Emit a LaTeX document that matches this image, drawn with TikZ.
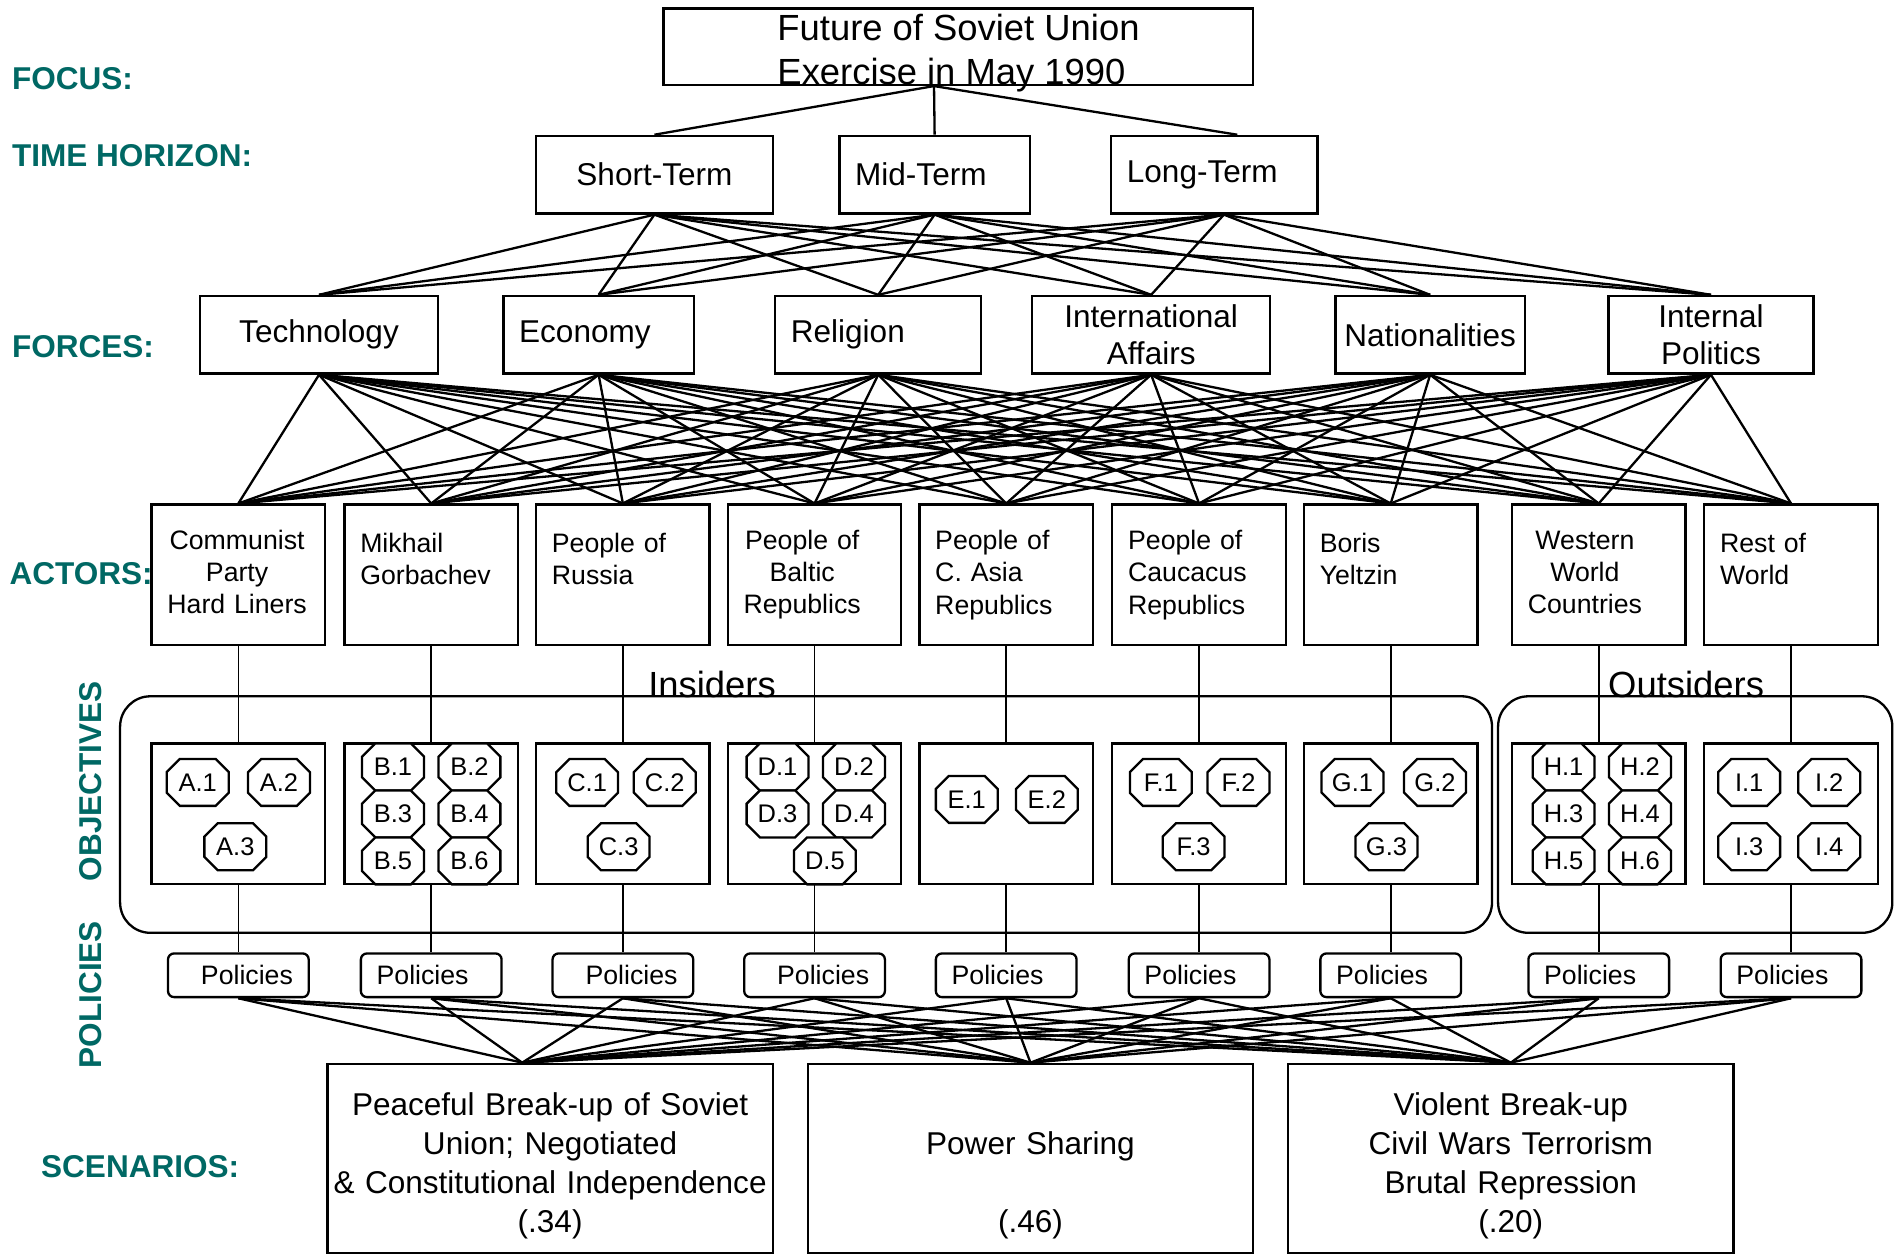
\documentclass[tikz,border=0pt]{standalone}
\usepackage{fontspec}
\setmainfont{Liberation Sans}
\usepackage{tikz}
\usetikzlibrary{shapes.misc}
\definecolor{levelcol}{RGB}{0,104,100}

\begin{document}
\begin{tikzpicture}[x=1pt,y=-1pt,line width=1.9pt,
        box/.style={draw,inner xsep=13pt,inner ysep=0pt,minimum height=64pt,font=\fontsize{26}{31}\selectfont},
        actor/.style={draw,inner xsep=13pt,inner ysep=0pt,text width=117pt,minimum height=116pt,font=\fontsize{22}{26.5}\selectfont},
        objbox/.style={draw,minimum width=143pt,minimum height=116pt},
        obj/.style={chamfered rectangle,chamfered rectangle xsep=10pt,draw,fill=white,inner sep=0pt,minimum width=51pt,minimum height=38.7pt,font=\fontsize{21}{24}\selectfont},
        pol/.style={draw,rounded corners=5pt,inner xsep=13pt,inner ysep=0pt,text width=90pt,minimum height=36pt,font=\fontsize{22}{26}\selectfont},
        scen/.style={draw,inner xsep=2pt,text width=363pt,minimum height=156pt,align=center,font=\fontsize{26}{32}\selectfont,execute at begin node=\rule{0pt}{31pt}},
        group/.style={draw,rounded corners=25pt,minimum height=195pt},
        level/.style={text=levelcol,inner sep=0pt,font=\fontsize{26}{31}\bfseries\selectfont},
        col/.style={line width=1.4pt}]
    \useasboundingbox (0,0) rectangle (1568,1037);

    % level names
    \node [level,anchor=west] (lfocus)  at (9,65)   {FOCUS:};
    \node [level,anchor=west] (ltime)   at (9,128)  {TIME HORIZON:};
    \node [level,anchor=west] (lforces) at (9,286)  {FORCES:};
    \node [level,anchor=west] (lactors) at (7,473)  {ACTORS:};
    \node [level,rotate=90]   (lobj)    at (75,644) {OBJECTIVES};
    \node [level,rotate=90]   (lpol)    at (75,820) {POLICIES};
    \node [level,anchor=west] (lscen)   at (33,962) {SCENARIOS:};

    % focus
    \node [draw,minimum width=486pt,minimum height=63pt] (focus) at (790,38.5) {};
    \node [anchor=west,align=left,inner sep=0pt,font=\fontsize{30}{36}\selectfont] (focustext) at (640,44) {Future of Soviet Union\\Exercise in May 1990};

    % time horizon
    \node [box,text width=169pt,align=center] (st) at (539.5,144) {Short-Term};
    \node [box,text width=131pt,align=left]   (mt) at (770.5,144) {Mid-Term};
    \node [box,text width=144pt,align=left]   (lt) at (1001,144)  {Long-Term};

    % forces
    \node [box,text width=170pt,align=center] (tech) at (263,276)    {Technology};
    \node [box,text width=131pt,align=left]   (econ) at (493.5,276)  {Economy};
    \node [box,text width=144pt,align=left]   (rel)  at (724,276)    {Religion};
    \node [box,text width=170pt,align=center] (intl) at (949,276)    {International\\Affairs};
    \node [box,inner xsep=7pt,text width=142pt,align=center] (nat) at (1179,276) {Nationalities};
    \node [box,text width=143pt,align=center] (ip)   at (1410.5,276) {Internal\\Politics};

    % actors
    \node [actor,align=left] (cp) at (196.5,474)  {\begin{tabular}{@{}c@{}}Communist\\Party\\Hard Liners\end{tabular}};
    \node [actor,align=left] (mg) at (355.5,474)  {Mikhail\\Gorbachev\\\mbox{}};
    \node [actor,align=left] (ru) at (513.5,474)  {People of\\Russia\\\mbox{}};
    \node [actor,align=left] (ba) at (671.5,474)  {\begin{tabular}{@{}c@{}}People of\\Baltic\\Republics\end{tabular}};
    \node [actor,align=left] (ca) at (829.5,474)  {People of\\C. Asia\\Republics};
    \node [actor,align=left] (cc) at (988.5,474)  {People of\\Caucacus\\Republics};
    \node [actor,align=left] (by) at (1146.5,474) {Boris\\Yeltzin\\\mbox{}};
    \node [actor,align=left] (ww) at (1318,474)   {\begin{tabular}{@{}c@{}}Western\\World\\Countries\end{tabular}};
    \node [actor,align=left] (rw) at (1476.5,474) {Rest of\\World\\\mbox{}};

    % insiders / outsiders
    \node [group,minimum width=1131pt] (insiders)  at (664.5,671.5)  {};
    \node [group,minimum width=325pt]  (outsiders) at (1397.5,671.5) {};
    \node [anchor=base,font=\fontsize{30}{36}\selectfont] (insiderstext)  at (587,575)  {Insiders};
    \node [anchor=base,font=\fontsize{30}{36}\selectfont] (outsiderstext) at (1390,575) {Outsiders};

    % objectives
    \node [objbox] (oa) at (196.5,671)  {};
    \node [objbox] (ob) at (355.5,671)  {};
    \node [objbox] (oc) at (513.5,671)  {};
    \node [objbox] (od) at (671.5,671)  {};
    \node [objbox] (oe) at (829.5,671)  {};
    \node [objbox] (of) at (988.5,671)  {};
    \node [objbox] (og) at (1146.5,671) {};
    \node [objbox] (oh) at (1318,671)   {};
    \node [objbox] (oi) at (1476.5,671) {};

    \node [obj] (a1) at (163,645) {A.1};
    \node [obj] (a2) at (230,645) {A.2};
    \node [obj] (a3) at (194,698) {A.3};
    \node [obj] (b1) at (324,632.3) {B.1};
    \node [obj] (b2) at (387,632.3) {B.2};
    \node [obj] (b3) at (324,671)   {B.3};
    \node [obj] (b4) at (387,671)   {B.4};
    \node [obj] (b5) at (324,709.7) {B.5};
    \node [obj] (b6) at (387,709.7) {B.6};
    \node [obj] (c1) at (484,645) {C.1};
    \node [obj] (c2) at (548,645) {C.2};
    \node [obj] (c3) at (510,698) {C.3};
    \node [obj] (d1) at (641,632.3) {D.1};
    \node [obj] (d2) at (704,632.3) {D.2};
    \node [obj] (d3) at (641,671)   {D.3};
    \node [obj] (d4) at (704,671)   {D.4};
    \node [obj] (d5) at (680,709.7) {D.5};
    \node [obj] (e1) at (797,659) {E.1};
    \node [obj] (e2) at (863,659) {E.2};
    \node [obj] (f1) at (957,645)  {F.1};
    \node [obj] (f2) at (1021,645) {F.2};
    \node [obj] (f3) at (984,698)  {F.3};
    \node [obj] (g1) at (1115,645) {G.1};
    \node [obj] (g2) at (1183,645) {G.2};
    \node [obj] (g3) at (1143,698) {G.3};
    \node [obj] (h1) at (1289,632.3) {H.1};
    \node [obj] (h2) at (1352,632.3) {H.2};
    \node [obj] (h3) at (1289,671)   {H.3};
    \node [obj] (h4) at (1352,671)   {H.4};
    \node [obj] (h5) at (1289,709.7) {H.5};
    \node [obj] (h6) at (1352,709.7) {H.6};
    \node [obj] (i1) at (1442,645) {I.1};
    \node [obj] (i2) at (1508,645) {I.2};
    \node [obj] (i3) at (1442,698) {I.3};
    \node [obj] (i4) at (1508,698) {I.4};

    % policies
    \node [pol,align=right] (pa) at (196.5,804)  {Policies};
    \node [pol,align=left]  (pb) at (355.5,804)  {Policies};
    \node [pol,align=right] (pc) at (513.5,804)  {Policies};
    \node [pol,align=right] (pd) at (671.5,804)  {Policies};
    \node [pol,align=left]  (pe) at (829.5,804)  {Policies};
    \node [pol,align=left]  (pf) at (988.5,804)  {Policies};
    \node [pol,align=left]  (pg) at (1146.5,804) {Policies};
    \node [pol,align=left]  (ph) at (1318,804)   {Policies};
    \node [pol,align=left]  (pi) at (1476.5,804) {Policies};

    % scenarios
    \node [scen] (peace) at (453.5,955)  {Peaceful Break-up of Soviet\\Union; Negotiated\\\& Constitutional Independence\\(.34)};
    \node [scen] (share) at (849.5,955)  {\\Power Sharing\\\mbox{}\\(.46)};
    \node [scen] (viol)  at (1245.5,955) {Violent Break-up\\Civil Wars Terrorism\\Brutal Repression\\(.20)};

    % focus -> time horizon
    \path ([xshift=-20pt]focus.south) edge (st.north) edge (mt.north) edge ([xshift=19pt]lt.north);

    % time horizon -> forces
    \path (st.south) edge (tech.north) edge (econ.north) edge (rel.north) edge (intl.north) edge (nat.north) edge (ip.north)
          (mt.south) edge (tech.north) edge (econ.north) edge (rel.north) edge (intl.north) edge (nat.north) edge (ip.north)
          ([xshift=8pt]lt.south) edge (tech.north) edge (econ.north) edge (rel.north) edge (intl.north) edge (nat.north) edge (ip.north);

    % forces -> actors
    \path (tech.south) edge (cp.north) edge (mg.north) edge (ru.north) edge (ba.north) edge (ca.north) edge (cc.north) edge (by.north) edge (ww.north) edge (rw.north)
          (econ.south) edge (cp.north) edge (mg.north) edge (ru.north) edge (ba.north) edge (ca.north) edge (cc.north) edge (by.north) edge (ww.north) edge (rw.north)
          (rel.south)  edge (cp.north) edge (mg.north) edge (ru.north) edge (ba.north) edge (ca.north) edge (cc.north) edge (by.north) edge (ww.north) edge (rw.north)
          (intl.south) edge (cp.north) edge (mg.north) edge (ru.north) edge (ba.north) edge (ca.north) edge (cc.north) edge (by.north) edge (ww.north) edge (rw.north)
          (nat.south)  edge (cp.north) edge (mg.north) edge (ru.north) edge (ba.north) edge (ca.north) edge (cc.north) edge (by.north) edge (ww.north) edge (rw.north)
          (ip.south)   edge (cp.north) edge (mg.north) edge (ru.north) edge (ba.north) edge (ca.north) edge (cc.north) edge (by.north) edge (ww.north) edge (rw.north);

    % actors -> objectives -> policies
    \path [col] (cp.south) edge (oa.north) (oa.south) edge (pa.north)
                (mg.south) edge (ob.north) (ob.south) edge (pb.north)
                (ru.south) edge (oc.north) (oc.south) edge (pc.north)
                (ba.south) edge (od.north) (od.south) edge (pd.north)
                (ca.south) edge (oe.north) (oe.south) edge (pe.north)
                (cc.south) edge (of.north) (of.south) edge (pf.north)
                (by.south) edge (og.north) (og.south) edge (pg.north)
                (ww.south) edge (oh.north) (oh.south) edge (ph.north)
                (rw.south) edge (oi.north) (oi.south) edge (pi.north);

    % policies -> scenarios
    \path (pa.south) edge ([xshift=-23pt]peace.north) edge (share.north) edge (viol.north)
          (pb.south) edge ([xshift=-23pt]peace.north) edge (share.north) edge (viol.north)
          (pc.south) edge ([xshift=-23pt]peace.north) edge (share.north) edge (viol.north)
          (pd.south) edge ([xshift=-23pt]peace.north) edge (share.north) edge (viol.north)
          (pe.south) edge ([xshift=-23pt]peace.north) edge (share.north) edge (viol.north)
          (pf.south) edge ([xshift=-23pt]peace.north) edge (share.north) edge (viol.north)
          (pg.south) edge ([xshift=-23pt]peace.north) edge (share.north) edge (viol.north)
          (ph.south) edge ([xshift=-23pt]peace.north) edge (share.north) edge (viol.north)
          (pi.south) edge ([xshift=-23pt]peace.north) edge (share.north) edge (viol.north);
\end{tikzpicture}
\end{document}
